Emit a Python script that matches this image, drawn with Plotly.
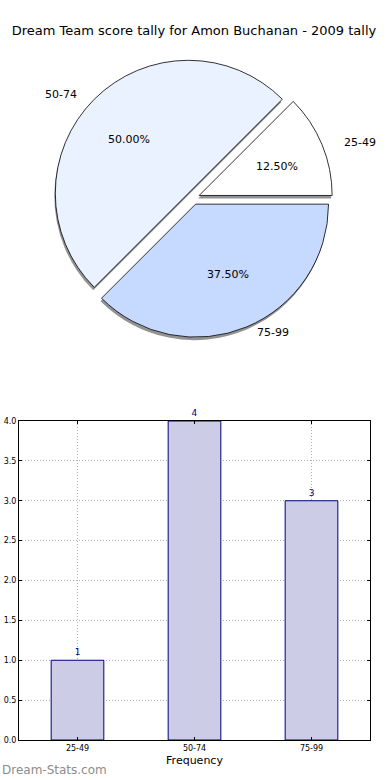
import math
import plotly.graph_objects as go

title = "Dream Team score tally for Amon Buchanan - 2009 tally"
categories = ["25-49", "50-74", "75-99"]
counts = [1, 4, 3]
pie_colors = ["#ffffff", "#eaf2ff", "#c6d9ff"]
explode = [0.05, 0.05, 0.05]

FONT = "DejaVu Sans"
W, H = 390, 780

def px_x(v):
    return v / W

def px_y(v):
    return 1 - v / H

# pie geometry (pixels)
cx, cy, r = 193, 198, 133
half = r * (1 + max(explode))
pie_domain = dict(x=[px_x(cx - half), px_x(cx + half)], y=[px_y(cy + half), px_y(cy - half)])
sh_domain = dict(x=[px_x(cx - half - 1), px_x(cx + half - 1)], y=[px_y(cy + half + 3), px_y(cy - half + 3)])

pie_common = dict(labels=categories, values=counts, sort=False, direction="counterclockwise",
                  rotation=45, pull=explode, showlegend=False, textinfo="none")

fig = go.Figure()

# shadow
fig.add_trace(go.Pie(
    domain=sh_domain, hoverinfo="skip",
    marker=dict(colors=["rgba(120,120,120,0.8)"] * 3, line=dict(width=0)), **pie_common,
))
# main pie
fig.add_trace(go.Pie(
    domain=pie_domain,
    marker=dict(colors=pie_colors, line=dict(color="black", width=0.8)), **pie_common,
))

# text labels placed like matplotlib's pie (labels at 1.1 r, percents at 0.6 r)
rx, ry = 140, 127
total = sum(counts)
annotations = []
start = 0.0
for cat, v, ex in zip(categories, counts, explode):
    span = 360.0 * v / total
    mid = math.radians(start + span / 2)
    start += span
    c, s = math.cos(mid), math.sin(mid)
    ox, oy = cx + ex * rx * c, cy - ex * ry * s
    # percent
    annotations.append(dict(text=f"{100.0 * v / total:.2f}%", x=px_x(ox + 0.6 * rx * c), y=px_y(oy - 0.6 * ry * s),
                            xanchor="center", yanchor="middle", xref="paper", yref="paper", showarrow=False,
                            font=dict(family=FONT, size=11, color="black")))
    # label
    annotations.append(dict(text=cat, x=px_x(ox + 1.1 * rx * c), y=px_y(oy - 1.1 * ry * s),
                            xanchor="left" if c > 0 else "right", yanchor="middle",
                            xref="paper", yref="paper", showarrow=False,
                            font=dict(family=FONT, size=11, color="black")))

fig.add_trace(go.Bar(
    x=categories, y=counts, width=0.45,
    marker=dict(color="#ccccE6", line=dict(color="#000080", width=1)),
    text=[str(c) for c in counts], textposition="outside", cliponaxis=False,
    textfont=dict(family=FONT, size=9, color="#000080"),
    showlegend=False,
))

axis_common = dict(
    showline=True, linecolor="black", linewidth=1, mirror="ticks",
    ticks="inside", ticklen=3, tickcolor="black",
    showgrid=True, gridcolor="#b0b0b0", griddash="1px,2px", gridwidth=1,
    zeroline=False, automargin=False,
    tickfont=dict(family=FONT, size=8, color="black"),
)

annotations.append(dict(text="Dream-Stats.com", x=0, xanchor="left", y=px_y(770), yanchor="middle",
                        xref="paper", yref="paper", showarrow=False,
                        font=dict(family=FONT, size=12, color="#8c8c8c")))

fig.update_layout(
    width=W, height=H, margin=dict(l=0, r=0, t=0, b=0),
    paper_bgcolor="white", plot_bgcolor="white",
    font=dict(family=FONT, color="black"),
    title=dict(text=title, x=194 / W, xanchor="center", y=px_y(30), yanchor="middle",
               font=dict(family=FONT, size=13, color="black")),
    xaxis=dict(domain=[px_x(19), px_x(370)], range=[-0.5, 2.5], anchor="y",
               title=dict(text="Frequency", font=dict(family=FONT, size=11), standoff=4),
               **axis_common),
    yaxis=dict(domain=[px_y(740), px_y(421)], range=[0, 4], dtick=0.5, tickformat=".1f",
               anchor="x", **axis_common),
    annotations=annotations,
)

fig.write_html("out.html", config={"displayModeBar": False},
               post_script="document.body.style.margin='0';document.body.style.padding='0';")
